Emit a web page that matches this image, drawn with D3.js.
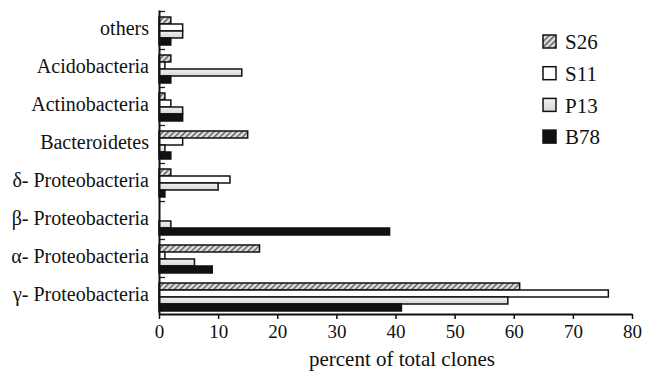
<!DOCTYPE html>
<html>
<head>
<meta charset="utf-8">
<script src="https://cdn.jsdelivr.net/npm/d3@7/dist/d3.min.js"></script>
<style>
  html, body { margin: 0; padding: 0; background: #fff; }
  svg { display: block; }
</style>
</head>
<body>
<svg id="chart" width="652" height="372"></svg>
<script>
const categories = ["others", "Acidobacteria", "Actinobacteria", "Bacteroidetes",
  "δ- Proteobacteria", "β- Proteobacteria", "α- Proteobacteria", "γ- Proteobacteria"];
const seriesNames = ["S26", "S11", "P13", "B78"];
const S26 = [2, 2, 1, 15, 2, 0, 17, 61];
const S11 = [4, 1, 2, 4, 12, 0, 1, 76];
const P13 = [4, 14, 4, 1, 10, 2, 6, 59];
const B78 = [2, 2, 4, 2, 1, 39, 9, 41];
const xTicks = [0, 10, 20, 30, 40, 50, 60, 70, 80];
const xTitle = "percent of total clones";

const seriesValues = { S26, S11, P13, B78 };
const FONT = "'Liberation Serif'";

const svg = d3.select("#chart");
const defs = svg.append("defs");
const pat = defs.append("pattern")
  .attr("id", "hatch").attr("patternUnits", "userSpaceOnUse")
  .attr("width", 4).attr("height", 4)
  .attr("patternTransform", "rotate(45)");
pat.append("rect").attr("width", 4).attr("height", 4).attr("fill", "#e0e0e0");
pat.append("rect").attr("x", 0).attr("width", 1.4).attr("height", 4).attr("fill", "#5a5a5a");

const grad = defs.append("linearGradient").attr("id", "lightgrad")
  .attr("x1", 0).attr("y1", 0).attr("x2", 0).attr("y2", 1);
grad.append("stop").attr("offset", "0%").attr("stop-color", "#f2f2f2");
grad.append("stop").attr("offset", "100%").attr("stop-color", "#d6d6d6");

const fills = { S26: "url(#hatch)", S11: "#ffffff", P13: "url(#lightgrad)", B78: "#111111" };

const mLeft = 159, mRight = 632, mTop = 10, mBottom = 314;

const x = d3.scaleLinear().domain([0, 80]).range([mLeft, mRight]);
const y0 = d3.scaleBand().domain(categories).range([mTop, mBottom]).padding(0);
const y1 = d3.scaleBand().domain(seriesNames).range([7, 35]).padding(0);

const data = categories.map((c, i) => ({
  cat: c,
  vals: seriesNames.map(s => ({ s, v: seriesValues[s][i] }))
}));

const g = svg.append("g");
const groups = g.selectAll("g.grp").data(data).join("g")
  .attr("class", "grp")
  .attr("transform", d => `translate(0,${y0(d.cat)})`);

groups.selectAll("rect").data(d => d.vals.filter(e => e.v > 0)).join("rect")
  .attr("x", x(0))
  .attr("y", e => y1(e.s))
  .attr("width", e => x(e.v) - x(0))
  .attr("height", y1.bandwidth())
  .attr("fill", e => fills[e.s])
  .attr("stroke", "#111")
  .attr("stroke-width", 1.5);

// inner tick marks at band boundaries
g.selectAll("line.btick").data(categories).join("line")
  .attr("class", "btick")
  .attr("x1", x(0)).attr("x2", x(0) + 6)
  .attr("y1", c => y0(c) + 1.5).attr("y2", c => y0(c) + 1.5)
  .attr("stroke", "#222").attr("stroke-width", 1.3);

// y axis
const yAxis = svg.append("g")
  .attr("transform", `translate(${mLeft},0)`)
  .call(d3.axisLeft(y0).tickSize(0).tickPadding(10));
yAxis.attr("font-family", null);
yAxis.select(".domain").attr("stroke", "#111").attr("stroke-width", 2);
yAxis.selectAll("text").style("font-size", "20px")
  .style("font-family", FONT).attr("fill", "#111");

// x axis
const xAxis = svg.append("g")
  .attr("transform", `translate(0,${mBottom})`)
  .call(d3.axisBottom(x).tickValues(xTicks).tickSize(5).tickSizeOuter(0).tickPadding(6));
xAxis.attr("font-family", null);
xAxis.select(".domain").attr("stroke", "#111").attr("stroke-width", 2);
xAxis.selectAll(".tick line").attr("stroke", "#111").attr("stroke-width", 1.5);
xAxis.selectAll("text").style("font-size", "19px")
  .style("font-family", FONT).attr("fill", "#111");

svg.append("text")
  .attr("x", 402).attr("y", 366)
  .attr("text-anchor", "middle")
  .style("font-size", "21px")
  .style("font-family", FONT).attr("fill", "#111")
  .text(xTitle);

// legend
const leg = svg.append("g").attr("transform", "translate(543,35)");
const li = leg.selectAll("g").data(seriesNames).join("g")
  .attr("transform", (s, i) => `translate(0,${i * 31.7})`);
li.append("rect").attr("width", 13).attr("height", 13)
  .attr("fill", s => fills[s]).attr("stroke", "#111").attr("stroke-width", 1.5);
li.append("text").attr("x", 22).attr("y", 7).attr("dy", "0.35em")
  .style("font-size", "21px").style("font-family", FONT).attr("fill", "#111")
  .text(s => s);
</script>
</body>
</html>
